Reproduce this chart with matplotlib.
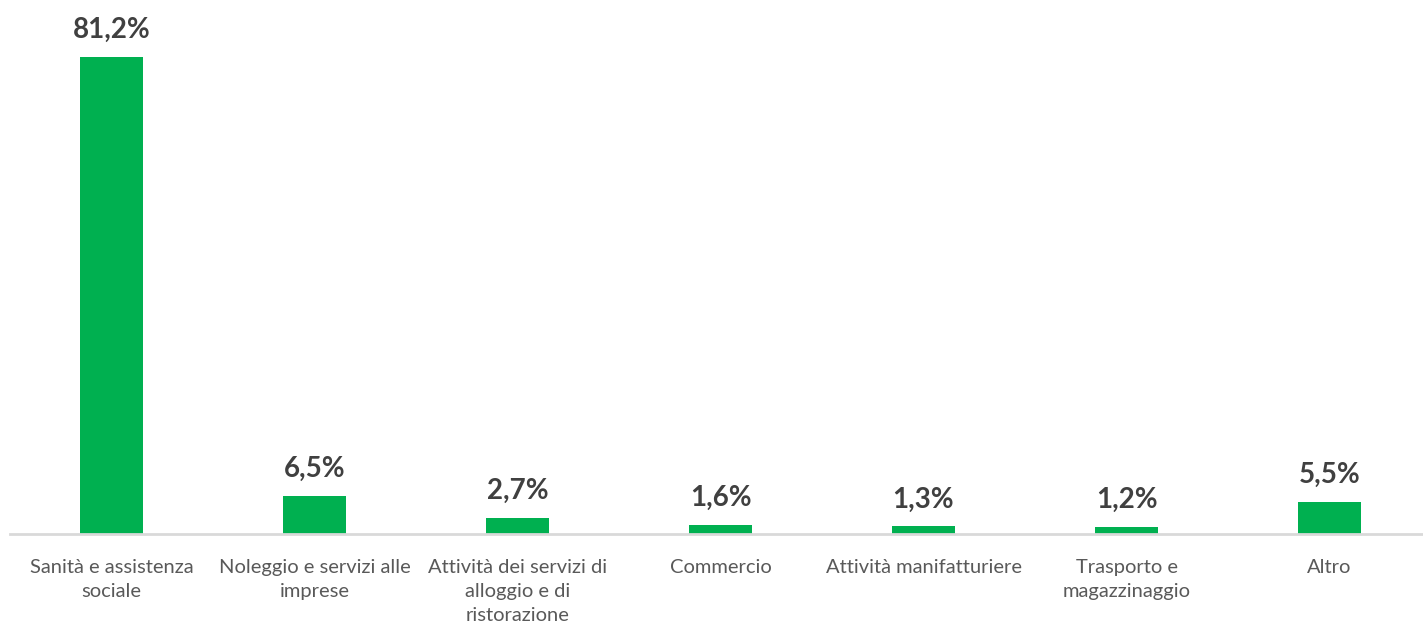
import matplotlib
matplotlib.use('Agg')
import matplotlib.pyplot as plt
import numpy as np

plt.rcParams['font.family'] = ['Lato', 'DejaVu Sans']

categories = ['Sanità e assistenza\nsociale', 'Noleggio e servizi alle\nimprese',
              'Attività dei servizi di\nalloggio e di\nristorazione', 'Commercio',
              'Attività manifatturiere', 'Trasporto e\nmagazzinaggio', 'Altro']
values = [81.2, 6.5, 2.7, 1.6, 1.3, 1.2, 5.5]
value_labels = ['81,2%', '6,5%', '2,7%', '1,6%', '1,3%', '1,2%', '5,5%']

BAR_COLOR = '#00B050'
W, H = 1423, 622

fig = plt.figure(figsize=(W/100, H/100), dpi=100)
ax = fig.add_axes([10/W, (H-534)/H, 1421/W, 534/H])

x = np.arange(len(categories))
ax.bar(x, values, width=0.315, color=BAR_COLOR)
for xi, v, lab in zip(x, values, value_labels):
    ax.annotate(lab, (xi, v), xytext=(0, 10), textcoords='offset points',
                ha='center', va='bottom', fontsize=20, fontweight='bold', color='#404040')

ax.set_xlim(-0.5, len(categories)-0.5)
ax.set_ylim(0, 534/5.874)
ax.set_xticks(x)
ax.set_xticklabels(categories, fontsize=14.5, color='#595959', linespacing=1.5)
ax.tick_params(axis='x', length=0, pad=18)
ax.set_yticks([])
for s in ['top', 'right', 'left']:
    ax.spines[s].set_visible(False)
ax.spines['bottom'].set_color('#d9d9d9')
ax.spines['bottom'].set_linewidth(2)

fig.savefig('out.png', dpi=100)
